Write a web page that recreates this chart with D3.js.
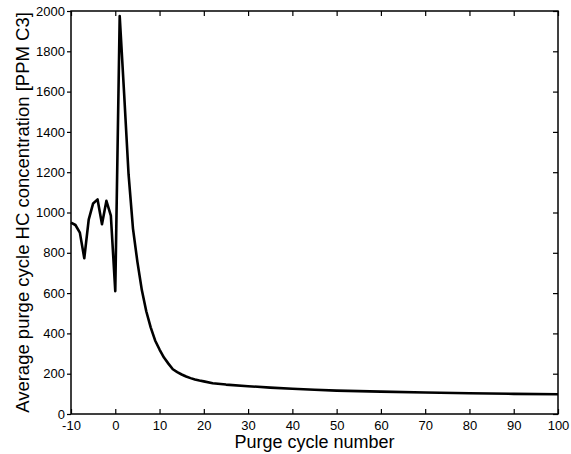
<!DOCTYPE html>
<html>
<head>
<meta charset="utf-8">
<script src="https://cdn.jsdelivr.net/npm/d3@7"></script>
<style>
  body { margin: 0; background: #fff; }
  text { font-family: "Liberation Sans", Arial, sans-serif; fill: #000; }
</style>
</head>
<body>
<div id="chart"></div>
<script>
// purge cycle number (x) and average HC concentration in ppm C3 (y)
const cycles = [-10, -9, -8, -7, -6, -5, -4, -3, -2, -1, 0,
  1, 2, 3, 4, 5, 6, 7, 8, 9, 10, 11, 12, 13, 14, 15, 16, 17, 18, 19, 20,
  22, 25, 30, 35, 40, 45, 50, 60, 70, 80, 90, 100];
const concentration = [950, 938, 900, 773, 965, 1045, 1065, 942, 1058, 985, 610,
  1975, 1590, 1190, 920, 755, 615, 510, 430, 365, 320, 280, 250, 222, 208, 196, 186, 178, 171, 166, 162,
  153, 146, 138, 131, 125, 120, 116, 111, 107, 103, 100, 98];
const xTicks = [-10, 0, 10, 20, 30, 40, 50, 60, 70, 80, 90, 100];
const yTicks = [0, 200, 400, 600, 800, 1000, 1200, 1400, 1600, 1800, 2000];

const width = 571, height = 454;
const margin = {top: 11, right: 13, bottom: 40, left: 71};
const plotW = width - margin.left - margin.right;
const plotH = height - margin.top - margin.bottom;

const svg = d3.select('#chart').append('svg')
  .attr('width', width)
  .attr('height', height);

const g = svg.append('g')
  .attr('transform', `translate(${margin.left},${margin.top})`);

const x = d3.scaleLinear().domain([-10, 100]).range([0, plotW]);
const y = d3.scaleLinear().domain([0, 2000]).range([plotH, 0]);

const plain = d => String(d);   // hyphen minus, no thousands comma
const tickLen = 5;

g.append('g').attr('transform', `translate(0,${plotH})`)
  .call(d3.axisBottom(x).tickValues(xTicks).tickFormat(plain)
    .tickSizeInner(-tickLen).tickSizeOuter(0).tickPadding(7));
g.append('g')
  .call(d3.axisLeft(y).tickValues(yTicks).tickFormat(plain)
    .tickSizeInner(4).tickSizeOuter(0).tickPadding(2));
g.append('g')
  .call(d3.axisTop(x).tickValues(xTicks).tickSizeInner(-tickLen).tickSizeOuter(0).tickFormat(''));
g.append('g').attr('transform', `translate(${plotW},0)`)
  .call(d3.axisRight(y).tickValues(yTicks).tickSizeInner(-tickLen).tickSizeOuter(0).tickFormat(''));

g.selectAll('.tick text').style('font-size', '13px');
g.selectAll('.domain').remove();
g.selectAll('.tick line').attr('stroke', '#000').attr('stroke-width', 1.2);

g.append('rect')
  .attr('width', plotW).attr('height', plotH)
  .attr('fill', 'none').attr('stroke', '#000').attr('stroke-width', 1.5);

const data = cycles.map((c, i) => ({x: c, y: concentration[i]}));

g.append('path')
  .datum(data)
  .attr('fill', 'none')
  .attr('stroke', '#000')
  .attr('stroke-width', 2.6)
  .attr('stroke-linejoin', 'round')
  .attr('d', d3.line().x(d => x(d.x)).y(d => y(d.y)));

// axis titles
svg.append('text')
  .attr('x', margin.left + plotW / 2)
  .attr('y', 448)
  .attr('text-anchor', 'middle')
  .style('font-size', '18px')
  .text('Purge cycle number');

svg.append('text')
  .attr('transform', `translate(28.5,${margin.top + plotH / 2}) rotate(-90)`)
  .attr('text-anchor', 'middle')
  .style('font-size', '18.5px')
  .text('Average purge cycle HC concentration [PPM C3]');
</script>
</body>
</html>
